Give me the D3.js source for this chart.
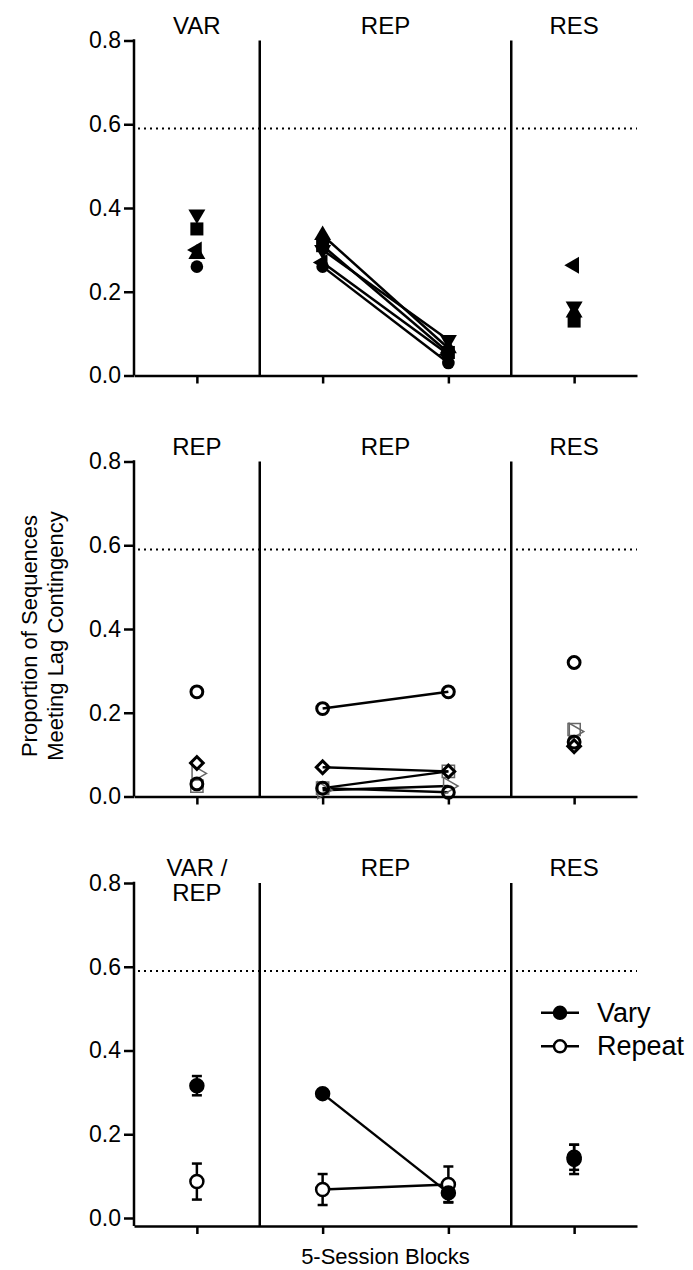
<!DOCTYPE html>
<html>
<head>
<meta charset="utf-8">
<script src="https://cdn.jsdelivr.net/npm/d3@7"></script>
<style>
  html, body { margin: 0; padding: 0; background: #fff; }
  svg { display: block; }
  text { font-family: "Liberation Sans", Arial, sans-serif; fill: #000; }
</style>
</head>
<body>
<svg id="chart" width="693" height="1270"></svg>
<script>
// Block positions along the x axis
const blocks = ["VAR", "REP1", "REP2", "RES"];
const yTicks = [0, 0.2, 0.4, 0.6, 0.8];
const criterion = 0.59;

// Panel headings (left, middle, right)
const topTitles = [["VAR"], ["REP"], ["RES"]];
const midTitles = [["REP"], ["REP"], ["RES"]];
const botTitles = [["VAR /", "REP"], ["REP"], ["RES"]];

// Top panel: individual subjects (filled symbols), one value per block
const topCircle   = [0.26, 0.26, 0.03, 0.14];
const topSquare   = [0.35, 0.31, 0.055, 0.13];
const topUp       = [0.29, 0.335, 0.065, 0.15];
const topDown     = [0.385, 0.30, 0.085, 0.165];
const topLeft     = [0.30, 0.27, 0.05, 0.263];

// Middle panel: individual subjects (open symbols)
const midCircleA  = [0.25, 0.21, 0.25, 0.32];
const midDiamond  = [0.08, 0.07, 0.06, 0.12];
const midSquare   = [0.025, 0.02, 0.06, 0.16];
const midRight    = [0.055, 0.015, 0.025, 0.155];
const midCircleB  = [0.03, 0.02, 0.01, 0.13];

// Bottom panel: group means with SEM
const varyMean    = [0.316, 0.297, 0.06, 0.14];
const varyErr     = [0.023, 0.004, 0.022, 0.035];
const repeatMean  = [0.087, 0.068, 0.080, 0.145];
const repeatErr   = [0.043, 0.037, 0.043, 0.03];

const legendLabels = ["Vary", "Repeat"];

const svg = d3.select("#chart");
const TICK_FONT = 23, TITLE_FONT = 24, LEGEND_FONT = 27, AXIS_FONT = 22;
const xLeft = 134, xRight = 637;
const x = d3.scalePoint().domain(blocks).range([xLeft, xRight]).padding(0.5);

// value-0 position and x-axis position of each panel
const panels = [
  { zero: 375.5, axis: 375.5 },
  { zero: 796.5, axis: 796.5 },
  { zero: 1218,  axis: 1226 }
];
const panelHeight = 335;

function symbolPath(type, size) {
  return d3.symbol().type(type).size(size)();
}

function drawFrame(p, titles) {
  const zero = p.zero, axisY = p.axis;
  const y = d3.scaleLinear().domain([0, 0.8]).range([zero, zero - panelHeight]);
  const g = svg.append("g");

  // y axis
  const ya = g.append("g")
    .attr("transform", `translate(${xLeft},0)`)
    .call(d3.axisLeft(y).tickValues(yTicks).tickFormat(d3.format(".1f"))
      .tickSize(10).tickSizeOuter(0).tickPadding(3));
  ya.select(".domain").remove();
  ya.selectAll("line").attr("stroke", "#000").attr("stroke-width", 2.5);
  ya.selectAll("text").attr("font-size", TICK_FONT)
    .style("font-family", '"Liberation Sans", Arial, sans-serif').attr("fill", "#000");
  g.append("line")
    .attr("x1", xLeft).attr("x2", xLeft)
    .attr("y1", y(0.8) - 1.25).attr("y2", axisY)
    .attr("stroke", "#000").attr("stroke-width", 2.5);

  // x axis
  const xa = g.append("g")
    .attr("transform", `translate(0,${axisY})`)
    .call(d3.axisBottom(x).tickSize(8).tickSizeOuter(0).tickFormat(""));
  xa.selectAll("path, line").attr("stroke", "#000").attr("stroke-width", 2.5);

  // dividers between phases
  const cuts = [(x("VAR") + x("REP1")) / 2, (x("REP2") + x("RES")) / 2];
  g.selectAll(".divider").data(cuts).join("line")
    .attr("x1", d => d).attr("x2", d => d)
    .attr("y1", y(0.8)).attr("y2", axisY)
    .attr("stroke", "#000").attr("stroke-width", 2.5);

  // criterion line
  g.append("line")
    .attr("x1", xLeft + 4).attr("x2", xRight)
    .attr("y1", y(criterion)).attr("y2", y(criterion))
    .attr("stroke", "#000").attr("stroke-width", 2)
    .attr("stroke-dasharray", "2,4");

  // phase headings
  const cx = [x("VAR"), (x("REP1") + x("REP2")) / 2, x("RES")];
  titles.forEach((lines, i) => {
    lines.forEach((t, j) => {
      g.append("text")
        .attr("x", cx[i]).attr("y", y(0.8) - 7 + j * 25)
        .attr("text-anchor", "middle").attr("font-size", TITLE_FONT)
        .text(t);
    });
  });
  return { g, y };
}

// ---------- Top panel ----------
(function () {
  const { g, y } = drawFrame(panels[0], topTitles);
  const series = [
    { v: topCircle, type: d3.symbolCircle, size: 125, rot: 0 },
    { v: topLeft,   type: d3.symbolTriangle, size: 125, rot: -90 },
    { v: topDown,   type: d3.symbolTriangle, size: 125, rot: 180 },
    { v: topUp,     type: d3.symbolTriangle, size: 125, rot: 0 },
    { v: topSquare, type: d3.symbolSquare, size: 170, rot: 0 }
  ];
  series.forEach(s => {
    g.append("line")
      .attr("x1", x("REP1")).attr("y1", y(s.v[1]))
      .attr("x2", x("REP2")).attr("y2", y(s.v[2]))
      .attr("stroke", "#000").attr("stroke-width", 2.5);
  });
  series.forEach(s => {
    blocks.forEach((b, i) => {
      g.append("path")
        .attr("d", symbolPath(s.type, s.size))
        .attr("transform", `translate(${x(b)},${y(s.v[i])}) rotate(${s.rot})`)
        .attr("fill", "#000");
    });
  });
})();

// ---------- Middle panel ----------
(function () {
  const { g, y } = drawFrame(panels[1], midTitles);
  const series = [
    { v: midSquare,  type: d3.symbolSquare,   size: 150, rot: 0,  stroke: "#666", sw: 1.5 },
    { v: midRight,   type: d3.symbolTriangle, size: 120, rot: 90, stroke: "#666", sw: 1.5 },
    { v: midCircleB, type: d3.symbolCircle,   size: 110, rot: 0,  stroke: "#000", sw: 3 },
    { v: midDiamond, type: d3.symbolSquare,   size: 80,  rot: 45, stroke: "#000", sw: 3 },
    { v: midCircleA, type: d3.symbolCircle,   size: 110, rot: 0,  stroke: "#000", sw: 3 }
  ];
  series.forEach(s => {
    g.append("line")
      .attr("x1", x("REP1")).attr("y1", y(s.v[1]))
      .attr("x2", x("REP2")).attr("y2", y(s.v[2]))
      .attr("stroke", "#000").attr("stroke-width", 2.5);
  });
  series.forEach(s => {
    blocks.forEach((b, i) => {
      g.append("path")
        .attr("d", symbolPath(s.type, s.size))
        .attr("transform", `translate(${x(b)},${y(s.v[i])}) rotate(${s.rot})`)
        .attr("fill", "none")
        .attr("stroke", s.stroke).attr("stroke-width", s.sw);
    });
  });
})();

// ---------- Bottom panel ----------
(function () {
  const { g, y } = drawFrame(panels[2], botTitles);
  const groups = [
    { mean: repeatMean, err: repeatErr, fill: "#fff" },
    { mean: varyMean, err: varyErr, fill: "#000" }
  ];
  groups.forEach(s => {
    g.append("line")
      .attr("x1", x("REP1")).attr("y1", y(s.mean[1]))
      .attr("x2", x("REP2")).attr("y2", y(s.mean[2]))
      .attr("stroke", "#000").attr("stroke-width", 2.5);
  });
  groups.forEach(s => {
    blocks.forEach((b, i) => {
      const cx = x(b), lo = y(s.mean[i] - s.err[i]), hi = y(s.mean[i] + s.err[i]);
      g.append("line").attr("x1", cx).attr("x2", cx).attr("y1", lo).attr("y2", hi)
        .attr("stroke", "#000").attr("stroke-width", 2.5);
      [lo, hi].forEach(yy => g.append("line")
        .attr("x1", cx - 5).attr("x2", cx + 5).attr("y1", yy).attr("y2", yy)
        .attr("stroke", "#000").attr("stroke-width", 2.5));
    });
  });
  groups.forEach(s => {
    blocks.forEach((b, i) => {
      g.append("circle")
        .attr("cx", x(b)).attr("cy", y(s.mean[i])).attr("r", 6.5)
        .attr("fill", s.fill).attr("stroke", "#000").attr("stroke-width", 2.5);
    });
  });

  // legend
  const legendY = [y(0.49), y(0.41)];
  legendLabels.forEach((lab, i) => {
    const row = g.append("g").attr("transform", `translate(0,${legendY[i]})`);
    row.append("line").attr("x1", 541).attr("x2", 579).attr("y1", 0).attr("y2", 0)
      .attr("stroke", "#000").attr("stroke-width", 2.5);
    row.append("circle").attr("cx", 560).attr("cy", 0).attr("r", 6)
      .attr("fill", i === 0 ? "#000" : "#fff").attr("stroke", "#000").attr("stroke-width", 2.5);
    row.append("text").attr("x", 597).attr("y", 9).attr("font-size", LEGEND_FONT).text(lab);
  });
})();

// ---------- Shared axis titles ----------
svg.append("text")
  .attr("x", (x("REP1") + x("REP2")) / 2).attr("y", 1264)
  .attr("text-anchor", "middle").attr("font-size", AXIS_FONT)
  .text("5-Session Blocks");

const yl = svg.append("text")
  .attr("transform", "translate(37,636) rotate(-90)")
  .attr("text-anchor", "middle").attr("font-size", AXIS_FONT);
yl.append("tspan").attr("x", 0).attr("dy", 0).text("Proportion of Sequences");
yl.append("tspan").attr("x", 0).attr("dy", 26).text("Meeting Lag Contingency");
</script>
</body>
</html>
